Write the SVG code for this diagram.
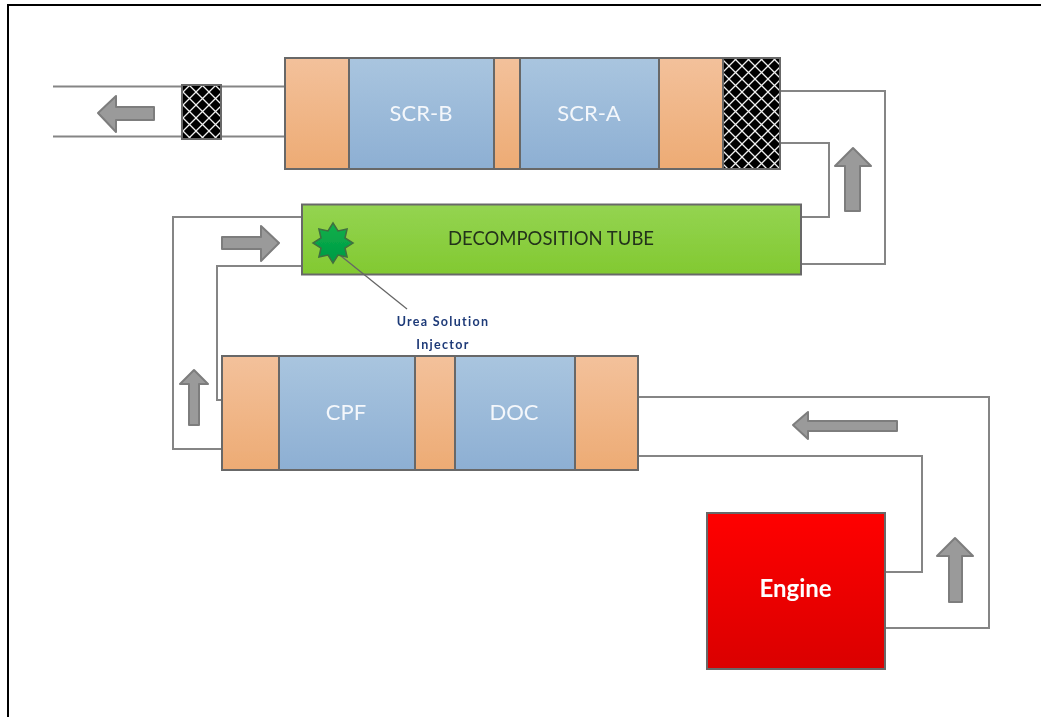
<svg xmlns="http://www.w3.org/2000/svg" width="1041" height="717" viewBox="0 0 1041 717">
<style>
.b{stroke:#686868;stroke-width:2}
.l{fill:none;stroke:#858585;stroke-width:2}
.a{fill:#9a9a9a;stroke:#7d7d7d;stroke-width:2;stroke-linejoin:round}
.o{fill:url(#og)}.s{fill:url(#bg)}
text{font-family:Lato,"Open Sans",sans-serif;text-anchor:middle}
.w{fill:#f4f7fb;font-size:22px}
</style>
<defs>
<linearGradient id="og" x1="0" y1="0" x2="0" y2="1"><stop offset="0" stop-color="#f3c19b"/><stop offset="1" stop-color="#edab74"/></linearGradient>
<linearGradient id="bg" x1="0" y1="0" x2="0" y2="1"><stop offset="0" stop-color="#a9c5df"/><stop offset="1" stop-color="#8dafd3"/></linearGradient>
<linearGradient id="gg" x1="0" y1="0" x2="0" y2="1"><stop offset="0" stop-color="#94d451"/><stop offset="1" stop-color="#82c931"/></linearGradient>
<linearGradient id="rg" x1="0" y1="0" x2="0" y2="1"><stop offset="0" stop-color="#ff0000"/><stop offset="1" stop-color="#da0000"/></linearGradient>
<linearGradient id="sg" x1="0" y1="0" x2="0" y2="1"><stop offset="0" stop-color="#0db04b"/><stop offset="1" stop-color="#009a44"/></linearGradient>
<pattern id="mesh" width="13" height="13" patternUnits="userSpaceOnUse" x="1" y="1">
<rect width="13" height="13" fill="#000"/>
<path d="M0 0L13 13M13 0L0 13" stroke="#f0f0f0" stroke-width="1.300"/>
</pattern>
<filter id="soft" x="-2%" y="-2%" width="104%" height="104%"><feGaussianBlur stdDeviation="0.45"/></filter>
</defs>
<rect width="1041" height="717" fill="#fff"/>
<g filter="url(#soft)">
<path d="M8 717V5H1041" fill="none" stroke="#000" stroke-width="2"/>
<g id="connectors">
<path class="l" d="M53 86.500H285M53 136.500H285"/>
<path class="l" d="M780 91H885V264H801"/>
<path class="l" d="M780 143H829V217H801"/>
<path class="l" d="M302 217H173V449H222"/>
<path class="l" d="M302 266H217V400H222"/>
<path class="l" d="M638 397H989V628H885"/>
<path class="l" d="M638 456H922V572H885"/>
</g>
<g id="flow-arrows">
<path class="a" d="M98 113L116 96V107H154V120H116V132Z"/>
<path class="a" d="M853 148L871 166H860V211H845V166H835Z"/>
<path class="a" d="M279 243L261 226V237H222V249H261V261Z"/>
<path class="a" d="M194 370L208 384H199V425H189V384H180Z"/>
<path class="a" d="M793 425L808 412V421H897V431H808V439Z"/>
<path class="a" d="M955 538L973 556H962V602H949V556H937Z"/>
</g>
<g id="filter-small"><rect class="b" x="182" y="85" width="39" height="54" fill="url(#mesh)"/></g>
<g id="scr-assembly">
<rect class="o b" x="285" y="58" width="64" height="111"/>
<rect class="s b" x="349" y="58" width="145" height="111"/>
<rect class="o b" x="494" y="58" width="26" height="111"/>
<rect class="s b" x="520" y="58" width="139" height="111"/>
<rect class="o b" x="659" y="58" width="64" height="111"/>
<rect class="b" x="723" y="58" width="57" height="111" fill="url(#mesh)"/>
</g>
<g id="scr-b"><text class="w" x="421" y="121">SCR-B</text></g>
<g id="scr-a"><text class="w" x="589" y="121">SCR-A</text></g>
<g id="decomposition-tube">
<rect class="b" x="302" y="204.500" width="499" height="70" fill="url(#gg)"/>
<text x="551" y="245" font-size="18.500" fill="#24331a">DECOMPOSITION TUBE</text>
</g>
<path id="injector-leader" d="M336 252L407 309" fill="none" stroke="#666" stroke-width="1.300"/>
<g id="injector-star">
<path d="M333 223L338 231 347.100 228.900 345 238 353 243 345 248 347.100 257.100 338 255 333 263 328 255 318.900 257.100 321 248 313 243 321 238 318.900 228.900 328 231Z" fill="url(#sg)" stroke="#3f6f3f" stroke-width="1.500"/>
</g>
<g id="urea-label" font-size="12.500" font-weight="700" letter-spacing="1.300">
<text x="443" y="326" fill="#1f3a78">Urea Solution</text>
<text x="443" y="349" fill="#1f3a78">Injector</text>
</g>
<g id="cpf-doc-assembly">
<rect class="o b" x="222" y="356" width="57" height="114"/>
<rect class="s b" x="279" y="356" width="136" height="114"/>
<rect class="o b" x="415" y="356" width="40" height="114"/>
<rect class="s b" x="455" y="356" width="120" height="114"/>
<rect class="o b" x="575" y="356" width="63" height="114"/>
</g>
<g id="cpf"><text class="w" x="346" y="420">CPF</text></g>
<g id="doc"><text class="w" x="514" y="420">DOC</text></g>
<g id="engine">
<rect class="b" x="707" y="513" width="178" height="156" fill="url(#rg)"/>
<text x="795.500" y="597" font-size="24" font-weight="700" fill="#fff">Engine</text>
</g>
</g>
</svg>
